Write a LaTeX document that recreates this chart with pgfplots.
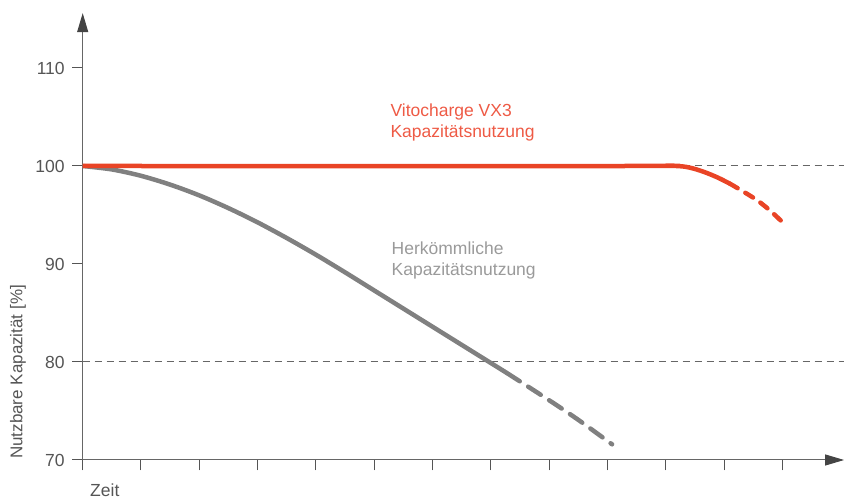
\documentclass[border=0pt]{standalone}
\usepackage{pgfplots}
\pgfplotsset{compat=1.18}
\usepackage{fontspec}
\setmainfont{Liberation Sans}
\usetikzlibrary{arrows.meta}

\definecolor{vxred}{HTML}{E94426}
\definecolor{vxredtext}{HTML}{EE5A45}
\definecolor{oldgray}{HTML}{808080}
\definecolor{oldgraytext}{HTML}{9A9A9A}
\definecolor{axisgray}{HTML}{666666}
\definecolor{ticktext}{HTML}{555555}
\definecolor{arrowgray}{HTML}{444444}

\begin{document}
\begin{tikzpicture}
\begin{axis}[
  x=58.3pt, y=9.8pt,
  xmin=0, xmax=13.06,
  ymin=70, ymax=115.6,
  axis lines=left,
  axis line style={axisgray, line width=1pt, -{Triangle[length=19pt,width=11pt,color=arrowgray]}},
  tick align=outside,
  major tick length=10.5pt,
  tick style={ticktext, line width=1pt},
  xtick={0,1,...,12},
  xticklabels={},
  ytick={70,80,90,100,110},
  yticklabel style={font=\fontsize{17.5}{20}\selectfont, text=ticktext, xshift=-4pt},
  /pgf/number format/assume math mode=true,
  xlabel={Zeit},
  xlabel style={at={(axis description cs:0.029,-0.067)}, anchor=center,
    font=\fontsize{17.5}{20}\selectfont, text=ticktext},
  ylabel={Nutzbare Kapazität [\%]},
  ylabel style={at={(axis description cs:-0.085,0.197)}, anchor=center,
    font=\fontsize{17}{20}\selectfont, text=ticktext},
  clip=false,
]
% reference lines
\addplot[axisgray, line width=1pt, dash pattern=on 7pt off 5pt] coordinates {(0,80) (13.06,80)};
\addplot[axisgray, line width=1pt, dash pattern=on 7pt off 5pt] coordinates {(0,100) (13.06,100)};

% conventional usage
\addplot[oldgray, line width=4.5pt, smooth] coordinates {
  (0,100) (0.5,99.65) (1,99.0) (1.5,98.1) (2,97.0) (2.5,95.7) (3,94.25)
  (3.5,92.65) (4,90.95) (4.5,89.15) (5,87.3) (5.5,85.45) (6,83.6)
  (6.5,81.75) (7,79.9) (7.28,78.86)};
\addplot[oldgray, line width=4.5pt, line cap=round, dash pattern=on 15pt off 10pt, smooth] coordinates {
  (7.28,78.86) (8,76.1) (8.5,74.1) (9.08,71.6)};

% Vitocharge
\addplot[vxred, line width=4.5pt, smooth] coordinates {
  (0,100) (9.5,100) (10,100.03) (10.3,99.95) (10.5,99.7) (10.7,99.3) (10.9,98.8) (11.1,98.2)};
\addplot[vxred, line width=4.5pt, line cap=round, dash pattern=on 9pt off 9pt, smooth] coordinates {
  (11.1,98.2) (11.3,97.5) (11.57,96.5) (11.8,95.4) (12.05,94.0)};

\node[anchor=west, align=left, text=vxredtext, font=\fontsize{17.5}{21}\selectfont]
  at (axis cs:5.22,104.44) {Vitocharge VX3\\Kapazitätsnutzung};
\node[anchor=west, align=left, text=oldgraytext, font=\fontsize{17.5}{21}\selectfont]
  at (axis cs:5.24,90.41) {Herkömmliche\\Kapazitätsnutzung};
\end{axis}
\pgfresetboundingbox
\useasboundingbox (-82.7pt,-40pt) rectangle (761.3pt,460pt);
\end{tikzpicture}
\end{document}
